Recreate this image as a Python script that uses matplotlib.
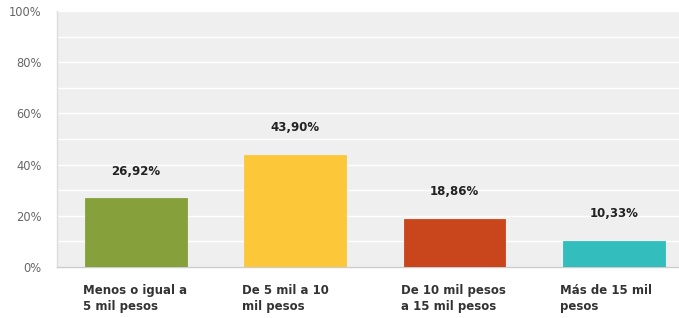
import matplotlib
matplotlib.use("Agg")
import matplotlib.pyplot as plt
import numpy as np

categories = ["Menos o igual a\n5 mil pesos", "De 5 mil a 10\nmil pesos",
              "De 10 mil pesos\na 15 mil pesos", "Más de 15 mil\npesos"]
values = [26.92, 43.90, 18.86, 10.33]
value_labels = ["26,92%", "43,90%", "18,86%", "10,33%"]
colors = ["#86a13b", "#fdc73a", "#c9461c", "#33bdbd"]
yticks = [0, 20, 40, 60, 80, 100]
ytick_labels = ["0%", "20%", "40%", "60%", "80%", "100%"]

plt.rcParams['font.family'] = ['DejaVu Sans']

fig = plt.figure(figsize=(6.79, 3.18), dpi=100)
ax = fig.add_axes([57/679, 1-267/318, 1-57/679, (267-11)/318])
ax.set_facecolor("#efefef")

x = np.arange(len(categories))
w = 0.64
ax.bar(x, values, width=w, color=colors, edgecolor=colors,
       linewidth=0.6, zorder=3)

ax.set_xlim(-0.496, 3.41)
ax.set_ylim(0, 100)
ax.set_yticks(yticks)
ax.set_yticklabels(ytick_labels, color="#666666", fontsize=8.3)
ax.set_yticks(np.arange(0, 101, 10), minor=True)
ax.grid(axis='y', which='both', color='white', linewidth=1.0, zorder=1)
ax.tick_params(axis='y', which='both', length=0, pad=11)
ax.set_xticks([])

for s in ['top', 'right']:
    ax.spines[s].set_visible(False)
ax.spines['left'].set_color('#dddddd')
ax.spines['bottom'].set_color('#cccccc')
ax.spines['left'].set_linewidth(1.0)
ax.spines['bottom'].set_linewidth(1.0)

for xi, v, lab in zip(x, values, value_labels):
    ax.annotate(lab, xy=(xi, v), xytext=(0, 19.5), textcoords='offset points',
                ha='center', va='center', fontsize=8.5, fontweight='bold',
                color='#222222')

for xi, cat in zip(x, categories):
    ax.annotate(cat, xy=(xi - w/2 - 0.015, 0), xytext=(0, -12), textcoords='offset points',
                ha='left', va='top', fontsize=8.5, fontweight='bold',
                color='#333333', linespacing=1.3, annotation_clip=False)

fig.savefig("out.png", dpi=100)
